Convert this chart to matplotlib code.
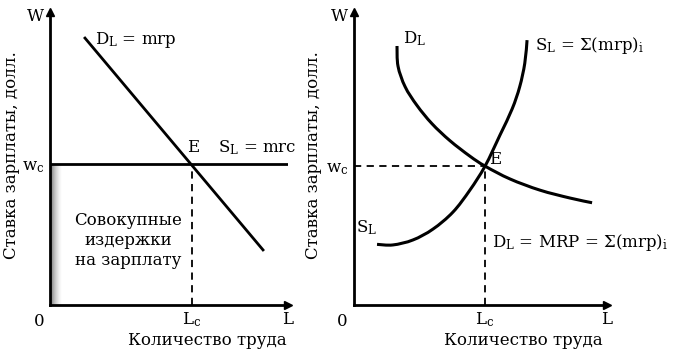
import numpy as np
import matplotlib.pyplot as plt
from matplotlib.path import Path
from matplotlib.patches import PathPatch

plt.rcParams['font.family'] = ['DejaVu Serif', 'DejaVu Sans']
plt.rcParams['mathtext.fontset'] = 'dejavuserif'

# left panel: competitive labour market
left_demand_L = [1.47, 8.95]
left_demand_W = [9.11, 1.88]
left_wc = 4.81
left_Lc = 5.97

# right panel: curves
right_demand_L = [1.70, 1.74, 2.02, 2.49, 3.08, 3.79, 4.58, 5.18, 6.17, 7.35, 8.54, 9.41]
right_demand_W = [8.84, 8.15, 7.45, 6.81, 6.19, 5.61, 5.08, 4.74, 4.30, 3.92, 3.65, 3.49]
right_supply_L = [0.91, 1.54, 2.33, 3.12, 3.91, 4.58, 5.18, 5.77, 6.25, 6.55, 6.75, 6.84]
right_supply_W = [2.07, 2.05, 2.22, 2.59, 3.17, 3.92, 4.74, 5.80, 6.69, 7.45, 8.25, 9.04]
right_wc = 4.74
right_Lc = 5.18

ylabel = 'Ставка зарплаты, долл.'
xlabel = 'Количество труда'
FS = 12


def smooth_path(xs, ys):
    # Catmull-Rom through the read points, drawn as cubic Bezier segments
    p = np.column_stack([xs, ys])
    verts = [p[0]]
    codes = [Path.MOVETO]
    for i in range(len(p) - 1):
        p0 = p[i - 1] if i > 0 else p[i]
        p3 = p[i + 2] if i + 2 < len(p) else p[i + 1]
        c1 = p[i] + (p[i + 1] - p0) / 6
        c2 = p[i + 1] - (p3 - p[i]) / 6
        verts += [c1, c2, p[i + 1]]
        codes += [Path.CURVE4] * 3
    return Path(verts, codes)


def setup(ax, wc, Lc, xlab_x):
    ax.set_xlim(0, 10)
    ax.set_ylim(0, 10)
    for s in ['top', 'right']:
        ax.spines[s].set_visible(False)
    for s in ['left', 'bottom']:
        ax.spines[s].set_linewidth(2)
    ax.plot(0, 10, marker='^', color='black', markersize=6, clip_on=False)
    ax.plot(10, 0, marker='>', color='black', markersize=6, clip_on=False)
    ax.set_xticks([Lc, 10])
    ax.set_xticklabels([r'L$_{\rm c}$', 'L'], fontsize=FS)
    ax.set_yticks([wc, 9.9])
    ax.set_yticklabels([r'w$_{\rm c}$', 'W'], fontsize=FS)
    ax.tick_params(length=0, pad=4)
    ax.text(-0.45, -0.55, '0', fontsize=FS, ha='center', va='center')
    ax.text(xlab_x, -1.2, xlabel, fontsize=FS, ha='center', va='center',
            clip_on=False)


fig = plt.figure(figsize=(6.8, 3.55), dpi=100)
ax1 = fig.add_axes([50 / 680, 50 / 355, 238 / 680, 293 / 355])
ax2 = fig.add_axes([354 / 680, 50 / 355, 253 / 680, 293 / 355])

fig.text(12 / 680, 1 - 155 / 355, ylabel, fontsize=FS, rotation=90,
         ha='center', va='center')
fig.text(314 / 680, 1 - 155 / 355, ylabel, fontsize=FS, rotation=90,
         ha='center', va='center')

# left
setup(ax1, left_wc, left_Lc, 6.6)
grad = np.linspace(0.6, 0.0, 20).reshape(1, -1)
ax1.imshow(grad, cmap='Greys', extent=[0, 0.5, 0, left_wc], aspect='auto',
           vmin=0, vmax=1, zorder=1)
ax1.axhline(left_wc, color='black', lw=2)
ax1.plot(left_demand_L, left_demand_W, color='black', lw=2)
ax1.plot([left_Lc, left_Lc], [0, left_wc], color='black', lw=1.3, ls=(0, (4, 3)))
ax1.text(1.89, 9.04, r'D$_{\rm L}$ = mrp', fontsize=FS, va='center')
ax1.text(6.0, 5.36, 'E', fontsize=FS, ha='center', va='center')
ax1.text(7.06, 5.36, r'S$_{\rm L}$ = mrc', fontsize=FS, va='center')
ax1.text(3.3, 2.2, 'Совокупные\nиздержки\nна зарплату', fontsize=FS,
         ha='center', va='center', linespacing=1.2)

# right
setup(ax2, right_wc, right_Lc, 6.7)
ax2.add_patch(PathPatch(smooth_path(right_demand_L, right_demand_W),
                        fill=False, lw=2.2, color='black'))
ax2.add_patch(PathPatch(smooth_path(right_supply_L, right_supply_W),
                        fill=False, lw=2.2, color='black'))
ax2.plot([0, right_Lc], [right_wc, right_wc], color='black', lw=1.3, ls=(0, (4, 3)))
ax2.plot([right_Lc, right_Lc], [0, right_wc], color='black', lw=1.3, ls=(0, (4, 3)))
ax2.text(1.94, 9.1, r'D$_{\rm L}$', fontsize=FS, va='center')
ax2.text(7.15, 8.87, r'S$_{\rm L}$ = Σ(mrp)$_{\rm i}$', fontsize=FS, va='center')
ax2.text(5.35, 4.95, 'E', fontsize=FS, va='center')
ax2.text(0.08, 2.63, r'S$_{\rm L}$', fontsize=FS, va='center')
ax2.text(5.45, 2.12, r'D$_{\rm L}$ = MRP = Σ(mrp)$_{\rm i}$', fontsize=FS, va='center')

fig.savefig('out.png', dpi=100)
